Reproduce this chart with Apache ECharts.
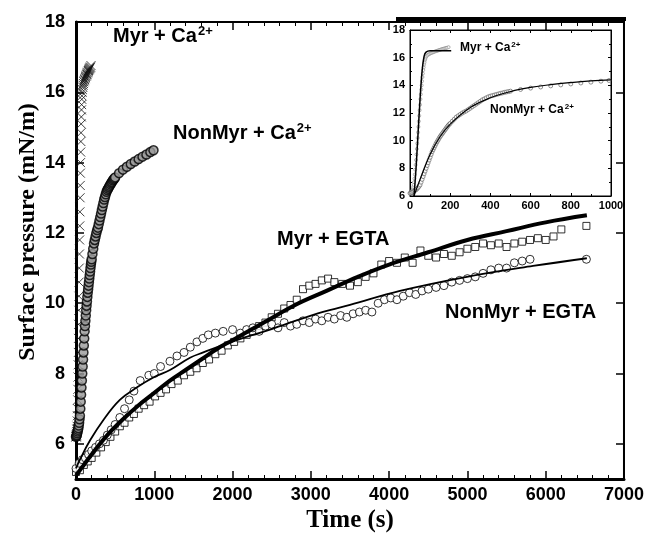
<!DOCTYPE html>
<html>
<head>
<meta charset="utf-8">
<script src="https://cdn.jsdelivr.net/npm/echarts@6/dist/echarts.min.js"></script>
<style>html,body{margin:0;padding:0;background:#fff;}#c{width:647px;height:541px;}</style>
</head>
<body>
<div id="c"></div>
<script>
// ---- data (time s, surface pressure mN/m) ----
const myrCa = [[0,6.2],[2,6.2],[4,6.22],[6,6.25],[8,6.3],[10,6.35],[12,6.42],[14,6.5],[16,6.65],[18,6.8],[20,7.0],[22,7.25],[24,7.55],[26,7.9],[28,8.25],[30,8.6],[32,9.0],[34,9.4],[36,9.8],[38,10.2],[40,10.6],[42,11.0],[44,11.4],[46,11.8],[48,12.2],[50,12.6],[52,13.0],[54,13.35],[56,13.7],[58,14.0],[60,14.3],[62,14.6],[64,14.85],[66,15.1],[68,15.3],[70,15.5],[72,15.65],[74,15.8],[76,15.9],[78,16.0],[80,16.08],[85,16.15],[90,16.2],[95,16.25],[100,16.3],[105,16.33],[110,16.36],[115,16.39],[120,16.42],[125,16.45],[130,16.47],[135,16.5],[140,16.52],[145,16.55],[150,16.57],[155,16.6],[160,16.62],[165,16.64],[170,16.66],[175,16.68],[180,16.7],[185,16.72],[192,16.76]];
const nonMyrCa = [[0,6.2],[5,6.22],[10,6.25],[15,6.3],[20,6.35],[25,6.4],[30,6.45],[35,6.52],[40,6.6],[45,6.7],[50,6.8],[55,7.0],[60,7.2],[65,7.4],[70,7.6],[75,7.8],[80,8.0],[85,8.2],[90,8.4],[95,8.6],[100,8.8],[105,9.0],[110,9.2],[115,9.35],[120,9.5],[125,9.65],[130,9.8],[135,9.93],[140,10.05],[145,10.18],[150,10.3],[155,10.4],[160,10.5],[165,10.6],[170,10.7],[175,10.8],[180,10.9],[185,11.0],[190,11.1],[195,11.18],[200,11.25],[210,11.4],[220,11.55],[230,11.7],[240,11.8],[250,11.9],[260,12.0],[270,12.08],[280,12.15],[290,12.25],[300,12.35],[310,12.45],[320,12.55],[330,12.65],[340,12.75],[350,12.85],[360,12.95],[370,13.02],[380,13.1],[390,13.17],[400,13.22],[410,13.26],[420,13.3],[430,13.34],[440,13.38],[450,13.42],[460,13.45],[470,13.49],[480,13.52],[490,13.55],[500,13.58],[550,13.7],[600,13.8],[650,13.88],[700,13.96],[750,14.03],[800,14.1],[850,14.17],[900,14.23],[950,14.3],[990,14.35]];
const myrEgta = [[0,5.2],[50,5.25],[100,5.4],[150,5.5],[200,5.6],[260,5.75],[320,5.9],[380,6.05],[440,6.2],[500,6.35],[560,6.5],[620,6.6],[680,6.75],[740,6.85],[800,7.0],[870,7.1],[940,7.2],[1010,7.35],[1080,7.45],[1150,7.55],[1220,7.7],[1300,7.8],[1380,7.95],[1460,8.05],[1540,8.15],[1620,8.3],[1700,8.4],[1780,8.55],[1860,8.65],[1940,8.8],[2020,8.9],[2100,9.0],[2180,9.1],[2260,9.2],[2340,9.35],[2420,9.45],[2500,9.6],[2580,9.7],[2660,9.85],[2740,9.95],[2820,10.1],[2900,10.4],[2980,10.5],[3060,10.55],[3140,10.65],[3220,10.7],[3300,10.6],[3400,10.55],[3500,10.5],[3600,10.6],[3700,10.75],[3800,10.85],[3900,11.1],[4000,11.2],[4100,11.15],[4200,11.3],[4300,11.15],[4400,11.5],[4500,11.35],[4600,11.3],[4700,11.4],[4800,11.35],[4900,11.45],[5000,11.55],[5100,11.6],[5200,11.7],[5300,11.65],[5400,11.7],[5500,11.6],[5600,11.7],[5700,11.75],[5800,11.8],[5900,11.85],[6000,11.8],[6100,11.9],[6200,12.1],[6520,12.2]];
const nonMyrEgta = [[0,5.3],[40,5.45],[80,5.55],[120,5.6],[160,5.7],[200,5.8],[250,5.9],[300,6.0],[350,6.1],[400,6.25],[450,6.4],[500,6.55],[560,6.75],[620,7.0],[680,7.25],[740,7.5],[820,7.8],[930,7.95],[1000,8.0],[1080,8.2],[1200,8.35],[1290,8.5],[1380,8.6],[1460,8.75],[1545,8.9],[1620,9.0],[1690,9.1],[1780,9.15],[1880,9.2],[2000,9.25],[2100,9.15],[2180,9.25],[2260,9.3],[2340,9.2],[2420,9.35],[2500,9.4],[2580,9.3],[2660,9.45],[2740,9.35],[2820,9.4],[2900,9.5],[2980,9.45],[3060,9.55],[3140,9.5],[3220,9.6],[3300,9.55],[3380,9.65],[3460,9.6],[3540,9.7],[3620,9.75],[3700,9.8],[3780,9.75],[3860,10.0],[3940,10.1],[4020,10.15],[4100,10.1],[4180,10.2],[4260,10.3],[4340,10.25],[4420,10.35],[4500,10.4],[4600,10.45],[4700,10.5],[4800,10.6],[4900,10.65],[5000,10.7],[5100,10.75],[5200,10.85],[5300,10.95],[5400,11.0],[5500,11.0],[5600,11.15],[5700,11.2],[5800,11.25],[6520,11.25]];
const myrEgtaFit = [[0,5.1],[100,5.4],[200,5.7],[400,6.25],[600,6.7],[800,7.1],[1000,7.45],[1200,7.8],[1400,8.1],[1600,8.4],[1800,8.7],[2000,8.95],[2400,9.45],[2800,9.95],[3200,10.35],[3600,10.75],[4000,11.1],[4500,11.45],[5000,11.8],[5500,12.05],[6000,12.3],[6526,12.5]];
const nonMyrEgtaFit = [[0,5.3],[50,5.55],[180,6.1],[350,6.68],[560,7.25],[775,7.6],[1000,7.9],[1200,8.1],[1456,8.45],[1626,8.6],[2053,8.95],[2478,9.25],[3031,9.67],[3500,9.95],[4138,10.35],[4994,10.75],[5838,11.06],[6526,11.28]];
const myrCaFit = [[20,6.0],[30,8.0],[40,10.5],[50,13.0],[60,15.0],[70,16.1],[80,16.4],[100,16.5],[150,16.5],[205,16.5]];
const nonMyrCaFit = [[20,6.0],[50,7.2],[100,9.0],[150,10.3],[200,11.2],[300,12.4],[400,13.1],[500,13.55],[600,13.85],[700,14.05],[800,14.2],[900,14.32],[1000,14.4]];
const yTicks = [6,8,10,12,14,16,18];

const SANS = 'Liberation Sans, Arial, sans-serif';
const SERIF = 'Liberation Serif, Times New Roman, serif';
const plain = v => String(v);
const chart = echarts.init(document.getElementById('c'), null, {renderer:'canvas'});

function mainX(pos, showLabel, lw){
  return {gridIndex:0, type:'value', position:pos, min:0, max:7000, interval:1000,
    axisLine:{show:true, onZero:false, lineStyle:{color:'#000', width:lw}},
    axisTick:{show:true, inside:true, length:8, lineStyle:{color:'#000', width:1.5}},
    minorTick:{show:true, splitNumber:5, length:4, lineStyle:{color:'#000', width:1}},
    splitLine:{show:false},
    axisLabel:{show:showLabel, formatter:plain, fontSize:18, fontWeight:'bold', color:'#000', fontFamily:SANS, margin:7}};
}
function mainY(pos, showLabel, lw){
  return {gridIndex:0, type:'value', position:pos, min:5, max:18,
    axisLine:{show:true, onZero:false, lineStyle:{color:'#000', width:lw}},
    axisTick:{show:true, inside:true, length:8, customValues:yTicks, lineStyle:{color:'#000', width:1.5}},
    splitLine:{show:false},
    axisLabel:{show:showLabel, formatter:plain, customValues:yTicks, fontSize:18, fontWeight:'bold', color:'#000', fontFamily:SANS, margin:11}};
}
function insetX(pos, showLabel){
  return {gridIndex:1, type:'value', position:pos, min:0, max:1000, interval:200,
    axisLine:{show:true, onZero:false, lineStyle:{color:'#000', width:1}},
    axisTick:{show:true, inside:true, length:3, lineStyle:{color:'#000'}},
    minorTick:{show:true, splitNumber:2, length:2, lineStyle:{color:'#000'}},
    splitLine:{show:false},
    axisLabel:{show:showLabel, formatter:plain, fontSize:11, fontWeight:'bold', color:'#000', fontFamily:SANS, margin:4}};
}
function insetY(pos, showLabel){
  return {gridIndex:1, type:'value', position:pos, min:6, max:18, interval:2,
    axisLine:{show:true, onZero:false, lineStyle:{color:'#000', width:1}},
    axisTick:{show:true, inside:true, length:3, lineStyle:{color:'#000'}},
    minorTick:{show:true, splitNumber:2, length:2, lineStyle:{color:'#000'}},
    splitLine:{show:false},
    axisLabel:{show:showLabel, formatter:plain, fontSize:11, fontWeight:'bold', color:'#000', fontFamily:SANS, margin:5}};
}

const crossPath = 'path://M0,0L10,10M10,0L0,10';
const option = {
  animation:false,
  backgroundColor:'#fff',
  grid:[
    {left:76, top:22, width:548, height:457, show:true, borderColor:'#000', borderWidth:2, backgroundColor:'transparent'},
    {left:410, top:30, width:201, height:166, show:true, borderColor:'#000', borderWidth:1, backgroundColor:'#fff'}
  ],
  xAxis:[mainX('bottom', true, 3), mainX('top', false, 2), insetX('bottom', true), insetX('top', false)],
  yAxis:[mainY('left', true, 3), mainY('right', false, 2), insetY('left', true), insetY('right', false)],
  series:[
    {type:'scatter', name:'Myr + Ca', xAxisIndex:0, yAxisIndex:0, data:myrCa, symbol:crossPath, symbolSize:9,
      itemStyle:{color:'transparent', borderColor:'#111', borderWidth:1}},
    {type:'scatter', name:'NonMyr + Ca', xAxisIndex:0, yAxisIndex:0, data:nonMyrCa, symbol:'circle', symbolSize:9,
      itemStyle:{color:'#999', borderColor:'#000', borderWidth:1.5}},
    {type:'scatter', name:'Myr + EGTA', xAxisIndex:0, yAxisIndex:0, data:myrEgta, symbol:'rect', symbolSize:7,
      itemStyle:{color:'#fff', borderColor:'#000', borderWidth:1}},
    {type:'scatter', name:'NonMyr + EGTA', xAxisIndex:0, yAxisIndex:0, data:nonMyrEgta, symbol:'circle', symbolSize:8,
      itemStyle:{color:'#fff', borderColor:'#000', borderWidth:1}},
    {type:'line', name:'Myr + EGTA fit', xAxisIndex:0, yAxisIndex:0, data:myrEgtaFit, smooth:0.4, showSymbol:false, symbol:'none',
      lineStyle:{color:'#000', width:4}, z:5},
    {type:'line', name:'NonMyr + EGTA fit', xAxisIndex:0, yAxisIndex:0, data:nonMyrEgtaFit, smooth:0.4, showSymbol:false, symbol:'none',
      lineStyle:{color:'#000', width:1.8}, z:5},
    {type:'scatter', name:'inset Myr + Ca', xAxisIndex:2, yAxisIndex:2, data:myrCa, symbol:'circle', symbolSize:3,
      itemStyle:{color:'#fff', borderColor:'#888', borderWidth:0.8}},
    {type:'scatter', name:'inset NonMyr + Ca', xAxisIndex:2, yAxisIndex:2, data:nonMyrCa, symbol:'circle', symbolSize:4,
      itemStyle:{color:'#fff', borderColor:'#555', borderWidth:0.8}},
    {type:'line', name:'inset Myr fit', xAxisIndex:2, yAxisIndex:2, data:myrCaFit, smooth:0.3, showSymbol:false, symbol:'none',
      lineStyle:{color:'#000', width:1.5}, z:5},
    {type:'line', name:'inset NonMyr fit', xAxisIndex:2, yAxisIndex:2, data:nonMyrCaFit, smooth:0.4, showSymbol:false, symbol:'none',
      lineStyle:{color:'#000', width:1.2}, z:5}
  ],
  graphic:[
    {type:'line', z:100, shape:{x1:396, y1:19, x2:626, y2:19}, style:{stroke:'#000', lineWidth:4}},
    {type:'text', x:350, y:521, z:100, style:{text:'Time (s)', font:'bold 25px ' + SERIF, fill:'#000', align:'center', verticalAlign:'middle'}},
    {type:'text', x:28, y:232, rotation:Math.PI/2, z:100, style:{text:'Surface pressure (mN/m)', font:'bold 24px ' + SERIF, fill:'#000', align:'center', verticalAlign:'middle'}},
    {type:'text', x:113, y:36, z:100, style:{text:'{a|Myr + Ca}{s|2+}', verticalAlign:'middle', rich:{a:{font:'bold 20px ' + SANS, fill:'#000'}, s:{font:'bold 13px ' + SANS, fill:'#000', padding:[0,0,10,1]}}}},
    {type:'text', x:173, y:133, z:100, style:{text:'{a|NonMyr + Ca}{s|2+}', verticalAlign:'middle', rich:{a:{font:'bold 20px ' + SANS, fill:'#000'}, s:{font:'bold 13px ' + SANS, fill:'#000', padding:[0,0,10,1]}}}},
    {type:'text', x:277, y:239, z:100, style:{text:'Myr + EGTA', font:'bold 20px ' + SANS, fill:'#000', verticalAlign:'middle'}},
    {type:'text', x:445, y:312, z:100, style:{text:'NonMyr + EGTA', font:'bold 20px ' + SANS, fill:'#000', verticalAlign:'middle'}},
    {type:'text', x:460, y:48, z:100, style:{text:'{a|Myr + Ca}{s|2+}', verticalAlign:'middle', rich:{a:{font:'bold 12px ' + SANS, fill:'#000'}, s:{font:'bold 8px ' + SANS, fill:'#000', padding:[0,0,6,1]}}}},
    {type:'text', x:490, y:110, z:100, style:{text:'{a|NonMyr + Ca}{s|2+}', verticalAlign:'middle', rich:{a:{font:'bold 12px ' + SANS, fill:'#000'}, s:{font:'bold 8px ' + SANS, fill:'#000', padding:[0,0,6,1]}}}}
  ]
};
chart.setOption(option);
</script>
</body>
</html>
